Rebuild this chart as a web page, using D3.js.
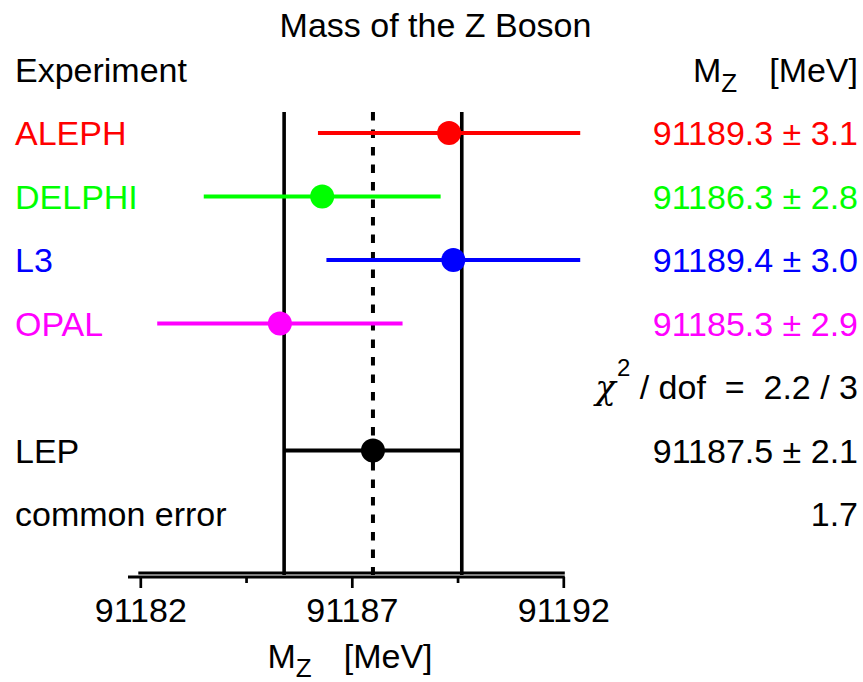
<!DOCTYPE html>
<html>
<head>
<meta charset="utf-8">
<script src="https://cdn.jsdelivr.net/npm/d3@7"></script>
<style>
  html, body { margin: 0; padding: 0; background: #fff; }
  svg { display: block; }
  text { font-family: "Liberation Sans", Arial, Helvetica, sans-serif; white-space: pre; }
</style>
</head>
<body>
<svg id="chart" width="863" height="682"></svg>
<script>
// ---- data ----
const experiments = ["ALEPH", "DELPHI", "L3", "OPAL"];
const masses = [91189.3, 91186.3, 91189.4, 91185.3];
const errors = [3.1, 2.8, 3.0, 2.9];
const colors = ["#ff0000", "#00ff00", "#0000ff", "#ff00ff"];
const lepLabel = "LEP";
const lepMass = 91187.5;
const lepError = 2.1;
const commonLabel = "common error";
const commonError = 1.7;
const chi2 = 2.2;
const dof = 3;
const xTicks = [91182, 91187, 91192];
const xMinorTicks = [91184.5, 91189.5];
const xDomain = [91182, 91192];

// ---- layout ----
const svg = d3.select("#chart");
const FS = 34;
const x = d3.scaleLinear().domain(xDomain).range([140.3, 563.3]);
const row = d3.scaleLinear().domain([0, 6]).range([133, 514]);
const axisY = 577;
const lineTop = 112;
const base = 12; // baseline offset from row centre

// title
svg.append("text").attr("x", 435.5).attr("y", 37).attr("text-anchor", "middle")
  .attr("font-size", FS).text("Mass of the Z Boson");

// headers
svg.append("text").attr("x", 15).attr("y", 82).attr("font-size", FS).text("Experiment");
const hdr = svg.append("text").attr("x", 858).attr("y", 82).attr("text-anchor", "end").attr("font-size", FS);
hdr.append("tspan").text("M");
hdr.append("tspan").attr("font-size", 26).attr("dy", 10).text("Z");
hdr.append("tspan").attr("dy", -10).attr("dx", 32).text("[MeV]");

// vertical band lines (LEP average ± error) and dashed centre
const gV = svg.append("g");
[lepMass - lepError, lepMass + lepError].forEach(v => {
  gV.append("line").attr("x1", x(v)).attr("x2", x(v)).attr("y1", lineTop).attr("y2", axisY - 2)
    .attr("stroke", "#000").attr("stroke-width", 3.6);
});
gV.append("line").attr("x1", x(lepMass)).attr("x2", x(lepMass)).attr("y1", lineTop).attr("y2", axisY - 2)
  .attr("stroke", "#000").attr("stroke-width", 4).attr("stroke-dasharray", "8.5,9");

// experiment rows
experiments.forEach((name, i) => {
  const y = row(i);
  svg.append("text").attr("x", 15).attr("y", y + base).attr("font-size", FS)
    .attr("fill", colors[i]).text(name);
  svg.append("line").attr("x1", x(masses[i] - errors[i])).attr("x2", x(masses[i] + errors[i]))
    .attr("y1", y).attr("y2", y).attr("stroke", colors[i]).attr("stroke-width", 4);
  svg.append("circle").attr("cx", x(masses[i])).attr("cy", y).attr("r", 12).attr("fill", colors[i]);
  svg.append("text").attr("x", 858).attr("y", y + base).attr("text-anchor", "end")
    .attr("font-size", FS).attr("fill", colors[i])
    .text(masses[i].toFixed(1) + " \u00b1 " + errors[i].toFixed(1));
});

// chi2 row
const chiY = row(4) + base;
const chi = svg.append("text").attr("x", 858).attr("y", chiY).attr("text-anchor", "end").attr("font-size", FS);
chi.append("tspan").attr("font-family", "'DejaVu Serif', serif").attr("font-style", "italic").text("\u03c7");
chi.append("tspan").attr("font-size", 24).attr("dy", -23).attr("dx", 1).text("2");
chi.append("tspan").attr("dy", 23).text(" / dof  =  " + chi2.toFixed(1) + " / " + dof);

// LEP row
const lepY = row(5);
svg.append("text").attr("x", 15).attr("y", lepY + base).attr("font-size", FS).text(lepLabel);
svg.append("line").attr("x1", x(lepMass - lepError)).attr("x2", x(lepMass + lepError))
  .attr("y1", lepY).attr("y2", lepY).attr("stroke", "#000").attr("stroke-width", 4);
svg.append("circle").attr("cx", x(lepMass)).attr("cy", lepY).attr("r", 12).attr("fill", "#000");
svg.append("text").attr("x", 858).attr("y", lepY + base).attr("text-anchor", "end").attr("font-size", FS)
  .text(lepMass.toFixed(1) + " \u00b1 " + lepError.toFixed(1));

// common error row
const comY = row(6);
svg.append("text").attr("x", 15).attr("y", comY + base).attr("font-size", FS).text(commonLabel);
svg.append("text").attr("x", 858).attr("y", comY + base).attr("text-anchor", "end").attr("font-size", FS)
  .text(commonError.toFixed(1));

// x axis
const gAx = svg.append("g").attr("transform", `translate(0,${axisY})`);
gAx.append("line").attr("x1", x(xDomain[0]) - 2).attr("x2", x(xDomain[1]) + 1.5)
  .attr("y1", -4).attr("y2", -4).attr("stroke", "#000").attr("stroke-width", 3);
gAx.append("line").attr("x1", 128).attr("x2", x(xDomain[1]) + 1.5)
  .attr("y1", 0).attr("y2", 0).attr("stroke", "#000").attr("stroke-width", 3);

const major = d3.axisBottom(x).tickValues(xTicks).tickFormat(d3.format("d")).tickSize(11).tickSizeOuter(0);
const gMaj = svg.append("g").attr("transform", `translate(0,${axisY})`).call(major);
gMaj.select(".domain").remove();
gMaj.selectAll(".tick line").attr("stroke", "#000").attr("stroke-width", 2.7);
gMaj.selectAll(".tick text").attr("y", 45).attr("dy", null).attr("font-size", FS)
  .attr("font-family", null).attr("fill", "#000");

const minor = d3.axisBottom(x).tickValues(xMinorTicks).tickFormat("").tickSize(6).tickSizeOuter(0);
const gMin = svg.append("g").attr("transform", `translate(0,${axisY})`).call(minor);
gMin.select(".domain").remove();
gMin.selectAll(".tick line").attr("stroke", "#000").attr("stroke-width", 2.7);

// x axis title
const xt = svg.append("text").attr("x", 267.5).attr("y", 668).attr("font-size", FS);
xt.append("tspan").text("M");
xt.append("tspan").attr("font-size", 26).attr("dy", 9).text("Z");
xt.append("tspan").attr("dy", -9).attr("dx", 32).text("[MeV]");
</script>
</body>
</html>
